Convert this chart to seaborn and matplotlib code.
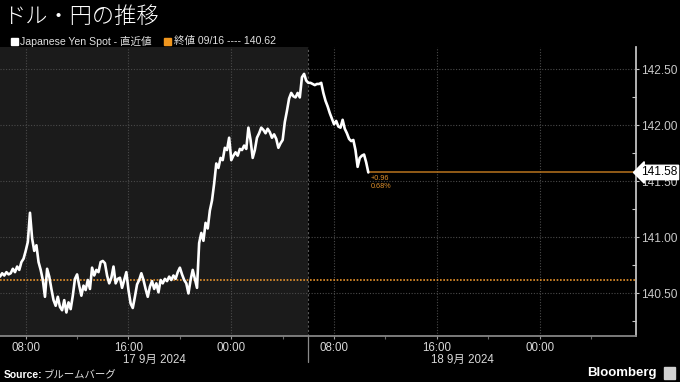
import numpy as np
import pandas as pd
import matplotlib
matplotlib.use("Agg")
import matplotlib.pyplot as plt
import matplotlib.dates as mdates
import matplotlib.transforms as mtransforms
from matplotlib.patches import Rectangle
import seaborn as sns

# ---------------- data ----------------
start_time = "2024-09-17 06:00"
step = "10min"
usdjpy = [
    140.65, 140.68, 140.66, 140.69, 140.67, 140.68, 140.72, 140.69, 140.74, 140.71,
    140.78, 140.81, 140.88, 140.96, 141.22, 140.99, 140.88, 140.93, 140.78, 140.71,
    140.62, 140.47, 140.72, 140.65, 140.54, 140.44, 140.39, 140.47, 140.38, 140.35,
    140.44, 140.33, 140.42, 140.36, 140.48, 140.63, 140.67, 140.57,
    140.48, 140.57, 140.53, 140.62, 140.54, 140.73, 140.66, 140.71, 140.69, 140.78,
    140.79, 140.77, 140.66, 140.59, 140.64, 140.74, 140.59, 140.63, 140.64, 140.55,
    140.62, 140.69, 140.53, 140.41, 140.37, 140.47, 140.58, 140.62, 140.68, 140.62,
    140.54, 140.47, 140.56, 140.61, 140.54,
    140.59, 140.51, 140.62, 140.59, 140.63, 140.61, 140.65, 140.62, 140.66, 140.63,
    140.69, 140.73, 140.67, 140.62, 140.59, 140.50, 140.62, 140.71, 140.63, 140.55,
    140.95, 141.04, 140.97, 141.13, 141.08, 141.24, 141.33, 141.48, 141.66, 141.62,
    141.71, 141.69, 141.80, 141.78, 141.89, 141.69, 141.73, 141.76, 141.73, 141.79,
    141.78, 141.82, 141.79, 141.98, 141.87, 141.71, 141.78, 141.89, 141.93, 141.98,
    141.96, 141.93, 141.97, 141.94, 141.89, 141.92, 141.88, 141.80, 141.84, 141.87,
    142.03, 142.13, 142.24, 142.29, 142.26, 142.25, 142.29, 142.25, 142.43, 142.46,
    142.40, 142.38, 142.38, 142.37, 142.36, 142.37, 142.37, 142.38, 142.29, 142.22,
    142.17, 142.11, 142.06, 142.01, 142.04, 141.99, 141.98, 142.05, 141.97, 141.93,
    141.88, 141.86, 141.87, 141.78, 141.63, 141.71, 141.73, 141.74, 141.67, 141.58,
]
prev_close = 140.62
last_value = 141.58
change_txt = "+0.96"
change_pct = "0.68%"
y_ticks = [140.50, 141.00, 141.50, 142.00, 142.50]
day_labels = ["17 9月 2024", "18 9月 2024"]
day_centers = ["2024-09-17 18:00", "2024-09-18 18:00"]
x_start = "2024-09-17 06:00"
x_end = "2024-09-19 07:30"
day_boundary = "2024-09-18 06:00"

title = "ドル・円の推移"
legend1 = "Japanese Yen Spot - 直近値"
legend2 = "終値 09/16 ---- 140.62"

times = pd.date_range(start_time, periods=len(usdjpy), freq=step)
df = pd.DataFrame({"time": times, "value": usdjpy})

# ---------------- style ----------------
sns.set_theme(style="dark")
plt.rcParams["font.family"] = ["Liberation Sans", "Noto Sans CJK JP", "DejaVu Sans"]

W, H = 680, 382
fig = plt.figure(figsize=(6.8, 3.82), dpi=100, facecolor="black")
ax = fig.add_axes([0, (H - 336) / H, 636 / W, 289 / H])
ax.set_facecolor("black")

xs = pd.Timestamp(x_start)
xe = pd.Timestamp(x_end)
xb = pd.Timestamp(day_boundary)

ax.axvspan(xs, xb, color="#1b1b1b", zorder=0, lw=0)

sns.lineplot(data=df, x="time", y="value", ax=ax, color="white",
             linewidth=1.9, zorder=5)

ax.set_xlim(xs, xe)
ax.set_ylim(140.12, 142.70)

# grid
ax.xaxis.set_major_locator(mdates.HourLocator(byhour=[0, 8, 16]))
ax.xaxis.set_minor_locator(mdates.HourLocator(byhour=[4, 12, 20]))
ax.xaxis.set_major_formatter(mdates.DateFormatter("%H:%M"))
ax.set_yticks(y_ticks)
ax.set_yticklabels([f"{v:.2f}" for v in y_ticks])
ax.yaxis.set_minor_locator(matplotlib.ticker.MultipleLocator(0.25))
ax.grid(True, which="major", color="#4a4a4a", linestyle=(0, (1, 1.5)), linewidth=0.8)
ax.axvline(xb, color="#5a5a5a", linestyle=(0, (2, 2)), linewidth=0.8, zorder=1)

# reference lines
ax.axhline(prev_close, color="#e8932c", linestyle=(0, (1, 1)), linewidth=1.2, zorder=3)
last_t = df["time"].iloc[-1]
ax.hlines(last_value, last_t, xe, color="#b8741e", linewidth=1.1, zorder=3)

ax.annotate(change_txt, xy=(last_t, last_value), xytext=(1.5, -4.5),
            textcoords="offset points", color="#e0902c", fontsize=5.2,
            va="center", ha="left")
ax.annotate(change_pct, xy=(last_t, last_value), xytext=(1.5, -10.2),
            textcoords="offset points", color="#e0902c", fontsize=5.2,
            va="center", ha="left")

# spines / ticks
for s in ["left", "top"]:
    ax.spines[s].set_visible(False)
ax.spines["right"].set_visible(True)
ax.spines["right"].set_color("#c8c8c8")
ax.spines["bottom"].set_visible(True)
ax.spines["bottom"].set_color("#8a8a8a")
ax.yaxis.tick_right()
ax.tick_params(axis="y", which="major", direction="out", length=2.5, width=0.8,
               colors="#c8c8c8", labelsize=8.6, pad=0.8, right=True, left=False)
ax.tick_params(axis="y", which="minor", direction="in", length=3, width=0.8,
               colors="#c8c8c8", right=True, left=False)
ax.tick_params(axis="x", which="major", direction="out", length=2.5, width=0.8,
               colors="#9a9a9a", labelcolor="#d8d8d8", labelsize=8.3, pad=2,
               bottom=True)
ax.tick_params(axis="x", which="minor", direction="out", length=2.5, width=0.8,
               colors="#6a6a6a", bottom=True)
ax.set_xlabel("")
ax.set_ylabel("")

# last value tag
trans = mtransforms.offset_copy(
    mtransforms.blended_transform_factory(ax.transAxes, ax.transData),
    fig=fig, x=5, y=0, units="dots")
ax.text(1.0, last_value, f"{last_value:.2f}", transform=trans, ha="left",
        va="center", fontsize=8.6, color="black", zorder=10, clip_on=False,
        bbox=dict(boxstyle="larrow,pad=0.1", fc="white", ec="white"))

# day labels & separator
btrans = mtransforms.blended_transform_factory(ax.transData, fig.transFigure)
for lab, c in zip(day_labels, day_centers):
    ax.text(pd.Timestamp(c), (H - 360) / H, lab, transform=btrans,
            ha="center", va="center", fontsize=8.3, color="#d8d8d8",
            family=["Liberation Sans", "Noto Sans CJK JP"])
ax.plot([xb, xb], [(H - 336) / H, (H - 362) / H], transform=btrans,
        color="#8a8a8a", lw=0.9, clip_on=False)

# title and legend
fig.text(3 / W, (H - 17) / H, title, color="white", fontsize=16,
         ha="left", va="center", family=["Noto Sans CJK JP"], fontweight="light")
fig.patches.append(Rectangle((11 / W, (H - 45) / H), 7 / W, 7 / H,
                             transform=fig.transFigure, color="white"))
fig.text(20 / W, (H - 41) / H, legend1, color="#e0e0e0", fontsize=7.6,
         ha="left", va="center", family=["Liberation Sans", "Noto Sans CJK JP"])
fig.patches.append(Rectangle((164 / W, (H - 45) / H), 7 / W, 7 / H,
                             transform=fig.transFigure, color="#f0961e"))
fig.text(174 / W, (H - 41) / H, legend2, color="#e0e0e0", fontsize=7.6,
         ha="left", va="center", family=["Liberation Sans", "Noto Sans CJK JP"])

# footer
fig.text(4 / W, (H - 375) / H, "Source:", color="white", fontsize=7.5,
         fontweight="bold", ha="left", va="center")
fig.text(44 / W, (H - 375) / H, "ブルームバーグ", color="#e0e0e0", fontsize=7.5,
         ha="left", va="center", family=["Noto Sans CJK JP"])
fig.text(657 / W, (H - 373) / H, "Bloomberg", color="white", fontsize=9.5,
         fontweight="bold", ha="right", va="center")
fig.patches.append(Rectangle((664 / W, (H - 379) / H), 11 / W, 12 / H,
                             transform=fig.transFigure, color="#d0d0d0"))

fig.savefig("out.png", dpi=100, facecolor="black")
